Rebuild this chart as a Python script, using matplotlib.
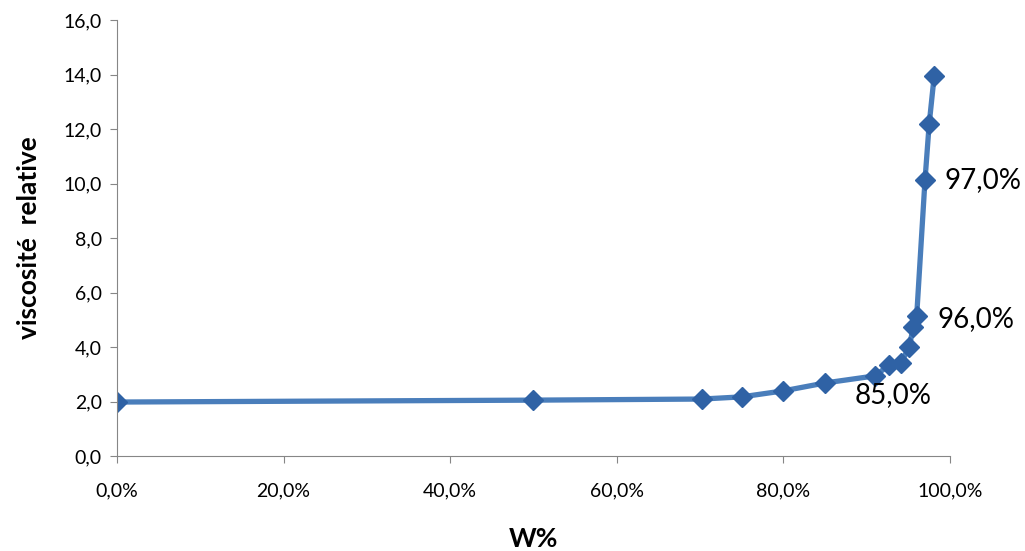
import matplotlib
matplotlib.use("Agg")
import matplotlib.pyplot as plt
from matplotlib.ticker import FuncFormatter

# teneur en eau (%) et viscosité relative
w_pct = [0.0, 50.0, 70.2, 75.0, 80.0, 85.0, 91.0, 92.7, 94.1, 95.1, 95.6, 96.0, 97.0, 97.5, 98.1]
visc = [1.98, 2.05, 2.09, 2.17, 2.39, 2.68, 2.94, 3.34, 3.41, 4.00, 4.73, 5.14, 10.13, 12.18, 13.94]

# annotations: (x, y, texte, décalage en points)
notes = [(85.0, 2.68, "85,0%", (49, -9)),
         (96.0, 5.14, "96,0%", (43, -2)),
         (97.0, 10.13, "97,0%", (42, 0))]

plt.rcParams['font.family'] = ['Lato', 'DejaVu Sans']

fig = plt.figure(figsize=(10.25, 5.51), dpi=100)
ax = fig.add_axes([117 / 1025, 1 - 456 / 551, (950 - 117) / 1025, (456 - 20) / 551])

ax.plot(w_pct, visc, color="#4a7ebb", lw=3.8, marker="D", ms=10,
        markerfacecolor="#2f62a5", markeredgecolor="#2f62a5", solid_joinstyle="round")

for x, y, txt, off in notes:
    ax.annotate(txt, xy=(x, y), xytext=off, textcoords="offset points",
                ha="center", va="center", fontsize=20, color="black")

ax.set_xlim(0, 100)
ax.set_ylim(0, 16)
ax.set_xticks(range(0, 101, 20))
ax.set_yticks(range(0, 17, 2))
ax.xaxis.set_major_formatter(FuncFormatter(lambda v, p: f"{v:.1f}%".replace(".", ",")))
ax.yaxis.set_major_formatter(FuncFormatter(lambda v, p: f"{v:.1f}".replace(".", ",")))
ax.tick_params(labelsize=14, color="#868686", length=5, pad=6)
ax.tick_params(axis="x", pad=14)

for s in ["top", "right"]:
    ax.spines[s].set_visible(False)
for s in ["left", "bottom"]:
    ax.spines[s].set_color("#868686")

ax.set_xlabel("W%", fontsize=19, fontweight="bold", labelpad=20)
ax.set_ylabel("viscosité  relative", fontsize=19, fontweight="bold", labelpad=16)

fig.savefig("out.png", dpi=100)
